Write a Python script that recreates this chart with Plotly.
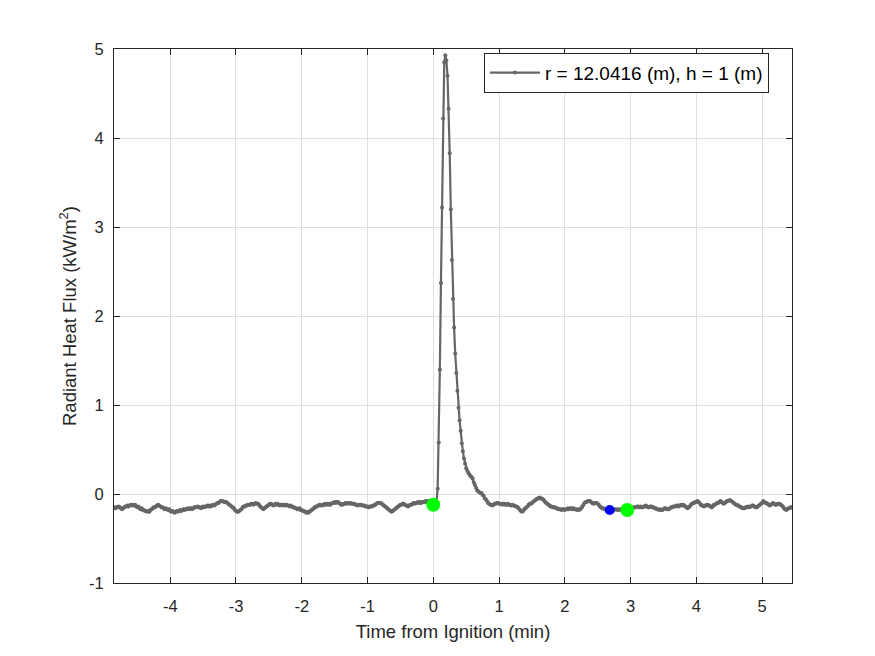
import numpy as np
import plotly.graph_objects as go

# ---- data ----
start_time_min = -294 / 60.0      # time of first sample (min)
sample_interval_min = 1 / 60.0    # 1 s sampling

flux_pre = [
    -0.16, -0.17, -0.16, -0.15, -0.16, -0.15, -0.15, -0.14, -0.15, -0.16, -0.17, -0.16,
    -0.15, -0.14, -0.14, -0.13, -0.14, -0.13, -0.12, -0.13, -0.12, -0.13, -0.12, -0.14,
    -0.15, -0.14, -0.16, -0.17, -0.16, -0.18, -0.18, -0.19, -0.19, -0.20, -0.19, -0.20,
    -0.18, -0.17, -0.16, -0.15, -0.15, -0.14, -0.13, -0.12, -0.13, -0.14, -0.15, -0.15,
    -0.16, -0.17, -0.16, -0.17, -0.18, -0.17, -0.19, -0.20, -0.19, -0.20, -0.21, -0.20,
    -0.19, -0.20, -0.19, -0.18, -0.19, -0.18, -0.17, -0.18, -0.17, -0.17, -0.16, -0.17,
    -0.16, -0.16, -0.17, -0.16, -0.15, -0.15, -0.15, -0.14, -0.15, -0.15, -0.16, -0.15,
    -0.14, -0.15, -0.14, -0.14, -0.13, -0.14, -0.13, -0.14, -0.13, -0.12, -0.13, -0.12,
    -0.11, -0.10, -0.10, -0.09, -0.08, -0.08, -0.08, -0.09, -0.09, -0.09, -0.10, -0.11,
    -0.12, -0.13, -0.14, -0.15, -0.16, -0.18, -0.19, -0.20, -0.20, -0.19, -0.18, -0.17,
    -0.15, -0.14, -0.14, -0.13, -0.13, -0.12, -0.12, -0.12, -0.11, -0.11, -0.12, -0.11,
    -0.10, -0.11, -0.11, -0.12, -0.14, -0.15, -0.16, -0.17, -0.16, -0.15, -0.14, -0.13,
    -0.12, -0.11, -0.11, -0.12, -0.13, -0.12,
    -0.11, -0.12, -0.11, -0.12, -0.13, -0.12, -0.12, -0.13, -0.12, -0.13, -0.12, -0.13,
    -0.13, -0.14, -0.13, -0.14, -0.15, -0.15, -0.16, -0.16, -0.17, -0.17, -0.16, -0.18,
    -0.18, -0.19, -0.19, -0.20, -0.21, -0.20, -0.21, -0.20, -0.19, -0.18, -0.17, -0.16,
    -0.15, -0.14, -0.14, -0.13, -0.12, -0.13, -0.12, -0.13, -0.12, -0.11, -0.12, -0.11,
    -0.12, -0.11, -0.12, -0.11, -0.10, -0.10, -0.09, -0.10, -0.09, -0.09, -0.10, -0.11,
    -0.12, -0.12, -0.11, -0.11, -0.10, -0.11, -0.10, -0.10, -0.11, -0.10, -0.11, -0.11,
    -0.11, -0.12, -0.12, -0.13, -0.12, -0.12, -0.12, -0.13, -0.13, -0.13, -0.14, -0.14,
    -0.14, -0.15, -0.14, -0.14, -0.14, -0.13, -0.13, -0.12, -0.11, -0.10, -0.10, -0.10,
    -0.10, -0.11, -0.12, -0.13, -0.14, -0.15, -0.16, -0.17, -0.18, -0.19, -0.20, -0.19,
    -0.18, -0.17, -0.16, -0.15, -0.14, -0.13, -0.12, -0.12, -0.11, -0.11, -0.12, -0.13,
    -0.13, -0.14, -0.13, -0.12, -0.12, -0.11, -0.10, -0.11, -0.10, -0.10, -0.09, -0.10,
    -0.09, -0.10, -0.09, -0.09, -0.09, -0.08, -0.09, -0.08, -0.09, -0.09, -0.10, -0.09,
]

flux_event = [
    -0.12, -0.11, -0.10, -0.09, 0.06, 0.58, 1.40, 2.37, 3.22, 4.22,
    4.85, 4.93, 4.87, 4.70, 4.33, 3.83, 3.20, 2.63, 2.19, 1.87,
    1.58, 1.36, 1.16, 0.97, 0.83, 0.71, 0.57, 0.48, 0.40, 0.34,
    0.29, 0.26, 0.24, 0.22, 0.20, 0.19, 0.17, 0.13, 0.10, 0.07,
    0.04, 0.03, 0.02, 0.01, 0.01, -0.01, -0.02, -0.05, -0.06, -0.08,
    -0.10, -0.11, -0.12, -0.12, -0.13, -0.12, -0.11, -0.11, -0.10, -0.10,
    -0.11, -0.11, -0.11, -0.12, -0.11, -0.11, -0.12, -0.12, -0.11, -0.12,
    -0.12, -0.13, -0.12, -0.13, -0.13, -0.14, -0.14, -0.15, -0.16, -0.18,
    -0.19, -0.20, -0.19, -0.17, -0.16, -0.15, -0.14, -0.12, -0.11, -0.11,
    -0.10, -0.09, -0.08, -0.07, -0.06, -0.05, -0.05, -0.04, -0.05, -0.05,
    -0.06, -0.07, -0.09, -0.10, -0.11, -0.12, -0.13, -0.14, -0.14, -0.15,
    -0.15, -0.15, -0.16, -0.16, -0.17, -0.17, -0.17, -0.18, -0.17, -0.17,
    -0.18, -0.17, -0.17, -0.16, -0.17, -0.16, -0.16, -0.17, -0.16, -0.17,
    -0.17, -0.18, -0.17, -0.18, -0.17, -0.16, -0.14, -0.12, -0.10, -0.09,
    -0.09, -0.08, -0.08, -0.08, -0.09, -0.10, -0.11, -0.10, -0.10, -0.10,
    -0.11, -0.12, -0.14, -0.15, -0.16, -0.16, -0.17, -0.17, -0.17, -0.18,
    -0.18, -0.18, -0.18, -0.17, -0.17, -0.18, -0.17, -0.17, -0.18, -0.17,
    -0.18, -0.17, -0.18, -0.17, -0.17, -0.18, -0.18, -0.18, -0.17, -0.17,
    -0.17,
]

flux_post = [
    -0.17, -0.16, -0.15, -0.15, -0.15, -0.14, -0.14, -0.15, -0.14, -0.15, -0.15, -0.14,
    -0.14, -0.13, -0.14, -0.15, -0.15, -0.14, -0.14, -0.15, -0.15, -0.16, -0.16, -0.17,
    -0.17, -0.18, -0.17, -0.18, -0.18, -0.17, -0.16, -0.16, -0.17, -0.17, -0.17, -0.16,
    -0.15, -0.15, -0.14, -0.14, -0.14, -0.13, -0.13, -0.14, -0.13, -0.12, -0.13, -0.12,
    -0.13, -0.14, -0.15, -0.16, -0.15, -0.14, -0.12, -0.11, -0.10, -0.10, -0.09, -0.09,
    -0.08, -0.09, -0.10, -0.12, -0.13, -0.13, -0.14, -0.13, -0.13, -0.12, -0.13, -0.13,
    -0.14, -0.15, -0.14, -0.12, -0.12, -0.11, -0.10, -0.10, -0.09, -0.08, -0.09, -0.10,
    -0.11, -0.10, -0.09, -0.08, -0.08, -0.07, -0.07, -0.08, -0.09, -0.10, -0.11, -0.12,
    -0.12, -0.13, -0.14, -0.14, -0.15, -0.16, -0.16, -0.16, -0.15, -0.15, -0.14, -0.15,
    -0.14, -0.14, -0.13, -0.13, -0.14, -0.15, -0.15, -0.14, -0.13, -0.12, -0.11, -0.10,
    -0.08, -0.09, -0.10, -0.10, -0.11, -0.12, -0.13, -0.12, -0.11, -0.10, -0.11, -0.12,
    -0.12, -0.11, -0.11, -0.11, -0.12, -0.13, -0.14, -0.16, -0.17, -0.18, -0.17, -0.16,
    -0.16, -0.15, -0.15, -0.15, -0.14, -0.15,
]

# highlighted samples
green_times = [0.0, 2.95]
green_flux = [-0.12, -0.18]
blue_times = [2.6833]
blue_flux = [-0.18]

legend_label = "r = 12.0416 (m), h = 1 (m)"
x_ticks = [-4, -3, -2, -1, 0, 1, 2, 3, 4, 5]
y_ticks = [-1, 0, 1, 2, 3, 4, 5]

# ---- build ----
flux = np.array(flux_pre + flux_event + flux_post)
time = start_time_min + sample_interval_min * np.arange(len(flux))

AX = "#262626"
FONT = "Liberation Sans, Arial, Helvetica, sans-serif"

fig = go.Figure()
fig.add_trace(go.Scatter(
    x=time, y=flux, mode="lines+markers", name=legend_label,
    line=dict(color="#666666", width=2.2),
    marker=dict(color="#666666", size=4, symbol="circle"),
))
fig.add_trace(go.Scatter(
    x=green_times, y=green_flux, mode="markers", showlegend=False,
    marker=dict(color="#00ff00", size=14, line=dict(width=0)),
))
fig.add_trace(go.Scatter(
    x=blue_times, y=blue_flux, mode="markers", showlegend=False,
    marker=dict(color="#0000ff", size=10, line=dict(width=0)),
))

axis_common = dict(
    showgrid=True, gridcolor="#dfdfdf", gridwidth=1,
    zeroline=False, showline=True, linecolor=AX, linewidth=1,
    mirror="ticks", ticks="inside", ticklen=6, tickcolor=AX, tickwidth=1,
    tickfont=dict(family=FONT, size=16.5, color=AX),
)

fig.update_layout(
    width=875, height=656,
    margin=dict(l=114, r=83, t=49, b=73),
    paper_bgcolor="white", plot_bgcolor="white",
    font=dict(family=FONT, color=AX),
    xaxis=dict(
        range=[-4.855, 5.455], tickvals=x_ticks, ticktext=[str(v) for v in x_ticks],
        ticklabelstandoff=8,
        title=dict(text="Time from Ignition (min)", font=dict(family=FONT, size=18.5, color=AX), standoff=11),
        **axis_common,
    ),
    yaxis=dict(
        range=[-1, 5], tickvals=y_ticks, ticktext=[str(v) for v in y_ticks],
        ticklabelstandoff=6,
        title=dict(text="Radiant Heat Flux (kW/m<sup>2</sup>)", font=dict(family=FONT, size=18.5, color=AX), standoff=7),
        **axis_common,
    ),
    legend=dict(
        x=0.966, xanchor="right", y=0.993, yanchor="top",
        bgcolor="white", bordercolor=AX, borderwidth=1,
        font=dict(family=FONT, size=19, color="#000000"),
        itemwidth=50,
    ),
    showlegend=True,
)

fig.write_html("out.html")
